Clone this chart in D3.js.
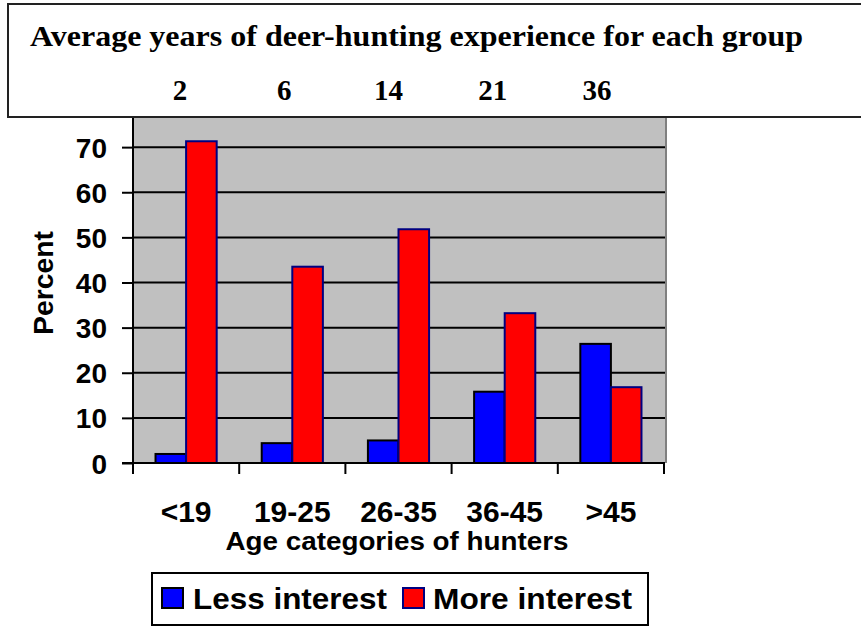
<!DOCTYPE html>
<html><head><meta charset="utf-8">
<script src="https://cdn.jsdelivr.net/npm/d3@7"></script>
<style>html,body{margin:0;padding:0;background:#fff;}svg{display:block;}</style>
</head><body>
<svg id="chart" width="861" height="626"></svg>
<script>
const categories = ["<19", "19-25", "26-35", "36-45", ">45"];
const experienceYears = ["2", "6", "14", "21", "36"];
const lessInterest = [2.0, 4.4, 5.0, 15.8, 26.4];
const moreInterest = [71.3, 43.5, 51.8, 33.2, 16.8];
const seriesNames = ["Less interest", "More interest"];
const yTicks = [0, 10, 20, 30, 40, 50, 60, 70];

(function () {
const svg = d3.select("#chart");
const sans = "'Liberation Sans', Arimo, Arial, sans-serif";
const serif = "'Liberation Serif', Tinos, 'Times New Roman', serif";
const fills = ["#0000ff", "#ff0000"];
const strokes = ["#000000", "#000080"];

const pLeft = 133, pRight = 664, pBottom = 463, pTop = 102, pEdge = 666;
const x = d3.scaleBand().domain(categories).range([pLeft, pRight]).paddingInner(0.424).paddingOuter(0.212);
const xFull = d3.scaleBand().domain(categories).range([pLeft, pRight]);
const xs = d3.scaleBand().domain([0, 1]).range([0, x.bandwidth()]);
const y = d3.scaleLinear().domain([0, 80]).range([pBottom, pTop]);

// plot area
svg.append("rect").attr("x", pLeft).attr("y", pTop).attr("width", pEdge - pLeft).attr("height", pBottom - pTop)
  .attr("fill", "#c0c0c0");
svg.append("line").attr("x1", pEdge).attr("x2", pEdge).attr("y1", pTop).attr("y2", pBottom)
  .attr("stroke", "#808080").attr("stroke-width", 2);

// gridlines
svg.append("g").selectAll("line").data(yTicks.filter(d => d > 0)).join("line")
  .attr("x1", pLeft).attr("x2", pEdge - 1).attr("y1", d => y(d)).attr("y2", d => y(d))
  .attr("stroke", "#000").attr("stroke-width", 2);

// bars
const data = categories.map((c, i) => ({c, v: [lessInterest[i], moreInterest[i]]}));
const groups = svg.append("g").selectAll("g").data(data).join("g")
  .attr("transform", d => `translate(${x(d.c)},0)`);
groups.selectAll("rect").data(d => d.v.map((v, k) => ({v, k}))).join("rect")
  .attr("x", d => xs(d.k)).attr("width", xs.bandwidth())
  .attr("y", d => y(d.v)).attr("height", d => pBottom - y(d.v))
  .attr("fill", d => fills[d.k]).attr("stroke", d => strokes[d.k]).attr("stroke-width", 2);

// y axis
const yAxis = d3.axisLeft(y).tickValues(yTicks).tickSize(11).tickPadding(15).tickFormat(d3.format("d"));
const gy = svg.append("g").attr("transform", `translate(${pLeft},0)`).call(yAxis);
gy.select(".domain").remove();
gy.selectAll(".tick line").attr("stroke", "#000").attr("stroke-width", 2);
gy.selectAll(".tick text").attr("font-family", sans).attr("font-weight", "bold").attr("font-size", 28)
  .attr("fill", "#000").attr("dy", "0.36em");
svg.append("line").attr("x1", pLeft).attr("x2", pLeft).attr("y1", pTop).attr("y2", pBottom + 11)
  .attr("stroke", "#000").attr("stroke-width", 2);

// x axis
svg.append("line").attr("x1", pLeft - 11).attr("x2", pRight + 1).attr("y1", pBottom).attr("y2", pBottom)
  .attr("stroke", "#000").attr("stroke-width", 2);
const tickPos = categories.map(c => xFull(c)).concat([pRight]);
svg.append("g").selectAll("line").data(tickPos).join("line")
  .attr("x1", d => d).attr("x2", d => d).attr("y1", pBottom).attr("y2", pBottom + 11)
  .attr("stroke", "#000").attr("stroke-width", 2);
svg.append("g").selectAll("text").data(categories).join("text")
  .attr("x", d => xFull(d) + xFull.bandwidth() / 2).attr("y", 522)
  .attr("text-anchor", "middle").attr("font-family", sans).attr("font-weight", "bold")
  .attr("font-size", 30).text(d => d);

svg.append("text").attr("x", 397).attr("y", 550).attr("text-anchor", "middle")
  .attr("font-family", sans).attr("font-weight", "bold").attr("font-size", 26)
  .attr("textLength", 343).attr("lengthAdjust", "spacingAndGlyphs")
  .text("Age categories of hunters");

svg.append("text").attr("transform", "translate(53,283) rotate(-90)").attr("text-anchor", "middle")
  .attr("font-family", sans).attr("font-weight", "bold").attr("font-size", 28)
  .attr("textLength", 104).attr("lengthAdjust", "spacingAndGlyphs")
  .text("Percent");

// title box
svg.append("rect").attr("x", 8).attr("y", 4).attr("width", 880).attr("height", 113)
  .attr("fill", "#fff").attr("stroke", "#222").attr("stroke-width", 2);
svg.append("text").attr("x", 30).attr("y", 46).attr("font-family", serif).attr("font-weight", "bold")
  .attr("font-size", 29).attr("textLength", 773).attr("lengthAdjust", "spacingAndGlyphs")
  .text("Average years of deer-hunting experience for each group");
const xh = d3.scaleBand().domain(categories).range([128, 649]);
svg.append("g").selectAll("text").data(experienceYears).join("text")
  .attr("x", (d, i) => xh(categories[i]) + xh.bandwidth() / 2).attr("y", 100)
  .attr("text-anchor", "middle").attr("font-family", serif).attr("font-weight", "bold")
  .attr("font-size", 29).text(d => d);

// legend
svg.append("rect").attr("x", 152).attr("y", 573).attr("width", 496).attr("height", 52)
  .attr("fill", "#fff").attr("stroke", "#000").attr("stroke-width", 2);
const legendSw = [162, 403], legendTx = [193, 433], legendLen = [194, 199];
seriesNames.forEach((n, k) => {
  svg.append("rect").attr("x", legendSw[k]).attr("y", 588).attr("width", 21).attr("height", 20)
    .attr("fill", fills[k]).attr("stroke", strokes[k]).attr("stroke-width", 2);
  svg.append("text").attr("x", legendTx[k]).attr("y", 609).attr("font-family", sans)
    .attr("font-weight", "bold").attr("font-size", 29)
    .attr("textLength", legendLen[k]).attr("lengthAdjust", "spacingAndGlyphs").text(n);
});
})();
</script>
</body></html>
